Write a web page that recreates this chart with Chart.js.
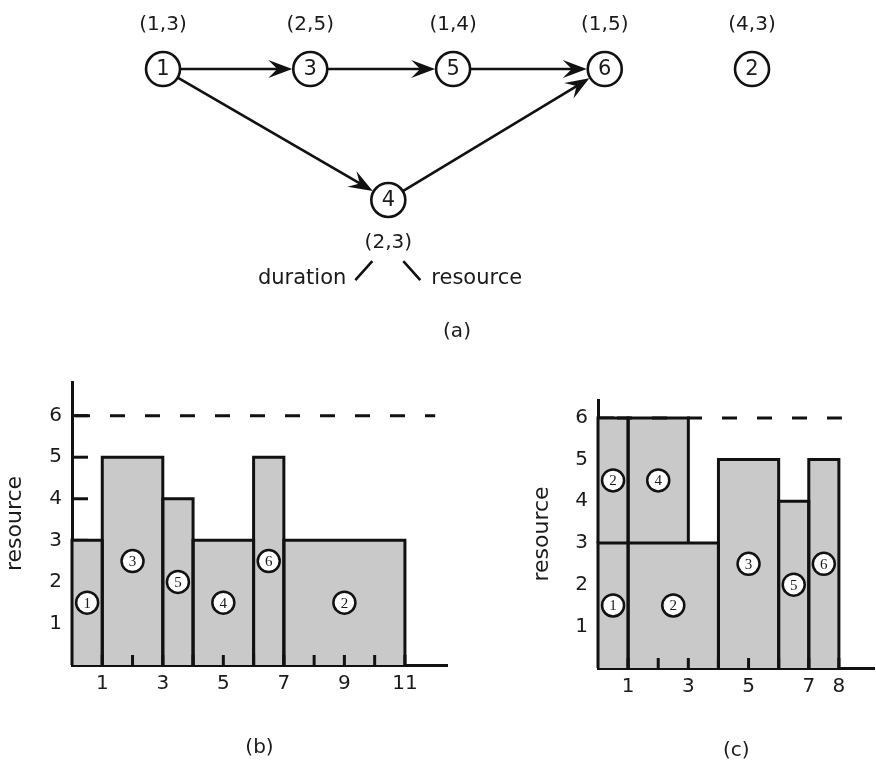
<!DOCTYPE html>
<html>
<head>
<meta charset="utf-8">
<script src="https://cdn.jsdelivr.net/npm/chart.js@4.4.1/dist/chart.umd.min.js"></script>
<style>
  html, body { margin: 0; padding: 0; background: #fff; width: 876px; height: 763px; overflow: hidden; }
  canvas { position: absolute; }
  #net { left: 38px; top: 0; }
  #profB { left: 0; top: 360px; }
  #profC { left: 500px; top: 360px; }
</style>
</head>
<body>
<canvas id="net" width="838" height="350"></canvas>
<canvas id="profB" width="460" height="403"></canvas>
<canvas id="profC" width="376" height="403"></canvas>
<script>
// tasks with (duration, resource)
var tasks = [1, 2, 3, 4, 5, 6];
var durations = [1, 4, 2, 2, 1, 1];
var resources = [3, 3, 5, 3, 4, 5];
var capacity = 6;

// precedence network (a)
var edgeFrom = [1, 1, 3, 5, 4];
var edgeTo = [3, 4, 5, 6, 6];
var nodeCol = [0, 4, 1, 1.53, 1.97, 3];
var nodeRow = [0, 0, 0, 1, 0, 0];

// schedule (b): one task at a time
var taskB = [1, 3, 5, 4, 6, 2];
var startB = [0, 1, 3, 4, 6, 7];
var endB = [1, 3, 4, 6, 7, 11];
var baseB = [0, 0, 0, 0, 0, 0];

// schedule (c): stacked, task 2 split in two pieces
var taskC = [1, 2, 4, 2, 3, 5, 6];
var startC = [0, 0, 1, 1, 4, 6, 7];
var endC = [1, 1, 3, 4, 6, 7, 8];
var baseC = [0, 3, 3, 0, 0, 0, 0];

var xTicksB = [1, 3, 5, 7, 9, 11];
var xTicksC = [1, 3, 5, 7, 8];
var yTicks = [1, 2, 3, 4, 5, 6];

var ink = '#111';
var textInk = '#1a1a1a';
var barFill = '#c9c9c9';
var sans = 'DejaVu Sans';

Chart.defaults.animation = false;
Chart.defaults.plugins.legend.display = false;
Chart.defaults.plugins.tooltip.enabled = false;

// ---------- (a) network ----------
var netPlugin = {
  id: 'netPlugin',
  beforeDatasetsDraw(chart) {
    var ctx = chart.ctx;
    var pts = chart.getDatasetMeta(0).data;
    var r = chart.data.datasets[0].pointRadius;
    ctx.save();
    ctx.strokeStyle = ink;
    ctx.fillStyle = ink;
    ctx.lineWidth = 2.6;
    edgeFrom.forEach(function (f, k) {
      var a = pts[tasks.indexOf(f)], b = pts[tasks.indexOf(edgeTo[k])];
      var dx = b.x - a.x, dy = b.y - a.y, len = Math.hypot(dx, dy);
      var ux = dx / len, uy = dy / len, nx = -uy, ny = ux;
      var sx = a.x + ux * r, sy = a.y + uy * r;
      var tx = b.x - ux * (r + 1), ty = b.y - uy * (r + 1);
      ctx.beginPath();
      ctx.moveTo(sx, sy);
      ctx.lineTo(tx - ux * 12, ty - uy * 12);
      ctx.stroke();
      var L = 24, W = 9, N = 15;
      ctx.beginPath();
      ctx.moveTo(tx, ty);
      ctx.lineTo(tx - ux * L + nx * W, ty - uy * L + ny * W);
      ctx.lineTo(tx - ux * N, ty - uy * N);
      ctx.lineTo(tx - ux * L - nx * W, ty - uy * L - ny * W);
      ctx.closePath();
      ctx.fill();
    });
    ctx.restore();
  },
  afterDatasetsDraw(chart) {
    var ctx = chart.ctx;
    var pts = chart.getDatasetMeta(0).data;
    ctx.save();
    ctx.fillStyle = textInk;
    ctx.textAlign = 'center';
    ctx.textBaseline = 'middle';
    tasks.forEach(function (t, i) {
      var p = pts[i];
      ctx.font = '21px "' + sans + '"';
      ctx.fillText(String(t), p.x, p.y + 1);
      ctx.font = '20px "' + sans + '"';
      var dy = nodeRow[i] > 0 ? 43 : -44;
      ctx.fillText('(' + durations[i] + ',' + resources[i] + ')', p.x, p.y + dy);
      if (nodeRow[i] > 0) {
        // key: which number is which
        ctx.font = '21px "' + sans + '"';
        ctx.textBaseline = 'alphabetic';
        ctx.textAlign = 'right';
        ctx.fillText('duration', p.x - 42, p.y + 84);
        ctx.textAlign = 'left';
        ctx.fillText('resource', p.x + 43, p.y + 84);
        ctx.textAlign = 'center';
        ctx.textBaseline = 'middle';
        ctx.strokeStyle = ink;
        ctx.lineWidth = 2.6;
        ctx.beginPath();
        ctx.moveTo(p.x - 33, p.y + 80); ctx.lineTo(p.x - 16, p.y + 61);
        ctx.moveTo(p.x + 15, p.y + 61); ctx.lineTo(p.x + 32, p.y + 80);
        ctx.stroke();
      }
    });
    ctx.restore();
  }
};

new Chart(document.getElementById('net'), {
  type: 'scatter',
  data: {
    datasets: [{
      data: tasks.map(function (t, i) { return { x: nodeCol[i], y: nodeRow[i] }; }),
      pointRadius: 17,
      pointBackgroundColor: '#fff',
      pointBorderColor: ink,
      pointBorderWidth: 2.6,
      clip: false
    }]
  },
  options: {
    responsive: false,
    layout: { padding: 0, autoPadding: false },
    scales: {
      x: { type: 'linear', min: -0.849, max: 4.842, display: false },
      y: { type: 'linear', min: -0.527, max: 1.916, reverse: true, display: false }
    },
    plugins: {
      title: {
        display: true, position: 'bottom', text: '(a)', color: textInk,
        font: { family: sans, size: 20, weight: 'normal' }, padding: { top: 0, bottom: 6 }
      }
    }
  },
  plugins: [netPlugin]
});

// ---------- (b), (c) resource profiles ----------
var innerTicks = {
  id: 'innerTicks',
  beforeDraw(chart) {
    // y ticks pointing into the plot, hidden under bars
    var ctx = chart.ctx, y = chart.scales.y, left = chart.chartArea.left;
    ctx.save();
    ctx.strokeStyle = ink;
    ctx.lineWidth = 3;
    y.ticks.forEach(function (t) {
      if (!Number.isInteger(t.value) || t.value === 0) return;
      var py = y.getPixelForValue(t.value);
      ctx.beginPath(); ctx.moveTo(left, py); ctx.lineTo(left + 16, py); ctx.stroke();
    });
    ctx.restore();
  },
  afterDatasetsDraw(chart) {
    var ctx = chart.ctx, x = chart.scales.x, bottom = chart.chartArea.bottom;
    var end = chart.options.plugins.innerTicks.end;
    ctx.save();
    ctx.strokeStyle = ink;
    ctx.lineWidth = 3;
    x.ticks.forEach(function (t) {
      if (!Number.isInteger(t.value) || t.value <= 0 || t.value > end) return;
      var px = x.getPixelForValue(t.value);
      ctx.beginPath(); ctx.moveTo(px, bottom); ctx.lineTo(px, bottom - 10); ctx.stroke();
    });
    // numbers inside the task circles
    chart.data.datasets.forEach(function (ds, di) {
      if (!ds.isLabel) return;
      ctx.fillStyle = textInk;
      ctx.font = '15px "Liberation Serif"';
      ctx.textAlign = 'center';
      ctx.textBaseline = 'middle';
      chart.getDatasetMeta(di).data.forEach(function (p, i) {
        ctx.fillText(String(ds.data[i].t), p.x, p.y + 1);
      });
    });
    ctx.restore();
  }
};

function profileChart(id, task, start, end, base, xTicks, cfg) {
  var segs = task.map(function (t, i) {
    return { t: t, s: start[i], e: end[i], b: base[i], h: resources[tasks.indexOf(t)] };
  });
  var datasets = segs.map(function (g) {
    return {
      data: [{ x: g.s, y: g.b }, { x: g.s, y: g.b + g.h }, { x: g.e, y: g.b + g.h }, { x: g.e, y: g.b }],
      borderColor: ink, borderWidth: 3, backgroundColor: barFill, fill: 'origin',
      pointRadius: 0, tension: 0, order: 3, clip: false
    };
  });
  datasets.push({
    data: [{ x: 0, y: capacity }, { x: cfg.capEnd, y: capacity }],
    borderColor: ink, borderWidth: 3, borderDash: [15, 20], borderDashOffset: cfg.dashOffset,
    fill: false, pointRadius: 0, order: 2, clip: false
  });
  datasets.push({
    data: segs.map(function (g) { return { x: (g.s + g.e) / 2, y: g.b + g.h / 2, t: g.t }; }),
    showLine: false, pointRadius: 11, pointBackgroundColor: '#fff',
    pointBorderColor: ink, pointBorderWidth: 2.5, order: 1, isLabel: true, clip: false
  });
  var makespan = Math.max.apply(null, end);
  var tickFont = { family: sans, size: 20 };
  return new Chart(document.getElementById(id), {
    type: 'line',
    data: { datasets: datasets },
    options: {
      responsive: false,
      layout: { padding: cfg.padding, autoPadding: false },
      scales: {
        x: {
          type: 'linear', position: 'bottom', min: 0, max: cfg.xMax, z: 1,
          afterFit: function (s) { s.height = cfg.xAxisH; },
          grid: { display: false, drawTicks: false },
          border: { display: true, color: ink, width: 3 },
          ticks: {
            stepSize: 1, autoSkip: false, maxRotation: 0, padding: 7, includeBounds: false,
            color: textInk, font: tickFont,
            callback: function (v) { return xTicks.indexOf(v) >= 0 ? String(v) : ''; }
          },
          title: {
            display: true, text: cfg.title, color: textInk,
            font: { family: sans, size: 20 }, padding: { top: 0, bottom: cfg.titlePad }
          }
        },
        y: {
          type: 'linear', position: 'left', min: 0, max: cfg.yMax, z: 1,
          afterFit: function (s) { s.width = cfg.yAxisW; },
          grid: { display: false, drawTicks: false },
          border: { display: true, color: ink, width: 3 },
          ticks: {
            stepSize: 1, autoSkip: false, padding: 10, includeBounds: false,
            color: textInk, font: tickFont,
            callback: function (v) { return yTicks.indexOf(v) >= 0 ? String(v) : ''; }
          },
          title: {
            display: true, text: 'resource', color: textInk,
            font: { family: sans, size: 22 }, padding: { top: cfg.yTitlePad, bottom: 0 }
          }
        }
      },
      plugins: {
        filler: { drawTime: 'beforeDatasetsDraw' },
        innerTicks: { end: makespan }
      }
    },
    plugins: [innerTicks]
  });
}

profileChart('profB', taskB, startB, endB, baseB, xTicksB, {
  title: '(b)', xMax: 12.39, yMax: 6.81, capEnd: 12, dashOffset: 32,
  xAxisH: 98, yAxisW: 72, titlePad: 3, yTitlePad: 2,
  padding: { top: 20, right: 13, left: 0, bottom: 0 }
});

profileChart('profC', taskC, startC, endC, baseC, xTicksC, {
  title: '(c)', xMax: 9.19, yMax: 6.43, capEnd: 8.1, dashOffset: 16,
  xAxisH: 95, yAxisW: 98, titlePad: 0, yTitlePad: 29,
  padding: { top: 40, right: 0, left: 0, bottom: 0 }
});
</script>
</body>
</html>
